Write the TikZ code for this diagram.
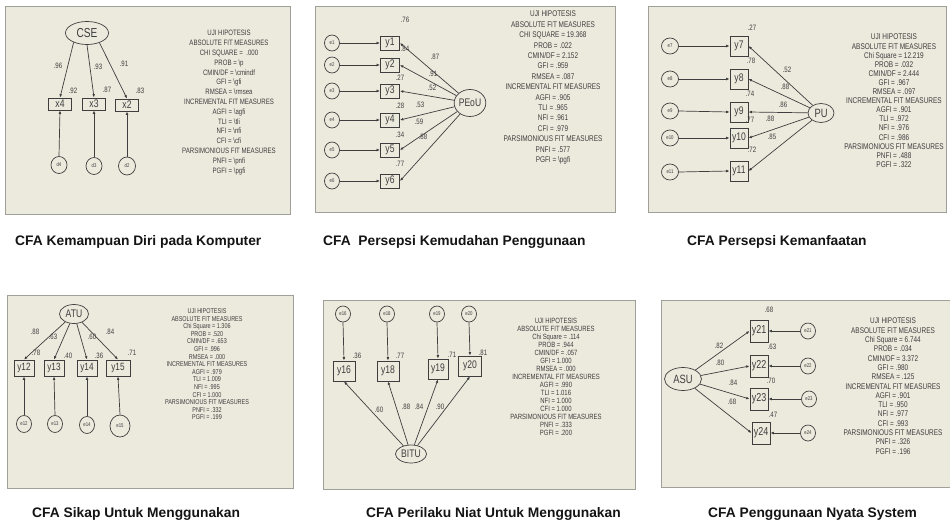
\documentclass[tikz,border=0pt]{standalone}
\usepackage{fontspec}
\setmainfont{Liberation Sans}
\newfontfamily\narrowsf[FakeStretch=0.78]{Liberation Sans}
\usetikzlibrary{shapes.geometric,arrows.meta}

\definecolor{panelbg}{RGB}{236,233,221}
\definecolor{panelrule}{RGB}{160,160,155}
\definecolor{ink}{RGB}{62,62,62}
\definecolor{captionink}{RGB}{20,20,20}

\tikzset{
  panel/.style={fill=panelbg, draw=panelrule, line width=0.8pt},
  latent/.style={ellipse, draw=ink, line width=0.7pt, inner sep=0pt, text=ink},
  observed/.style={rectangle, draw=ink, line width=0.9pt, inner sep=0pt, text=ink},
  errnode/.style={ellipse, draw=ink, line width=0.7pt, inner sep=0pt, text=ink,
    font=\narrowsf\fontsize{5.5}{5.5}\selectfont},
  loadarrow/.style={draw=ink, line width=0.7pt, -{Latex[length=3.4pt,width=2.8pt]}},
  coef/.style={text=ink, inner sep=0pt, font=\narrowsf\fontsize{7.8}{7.8}\selectfont},
  fitline/.style={text=ink, inner sep=0pt, anchor=base},
  caption/.style={text=captionink, anchor=west, inner sep=0pt,
    font=\bfseries\fontsize{13.8}{14}\selectfont},
}

% one centred line per fit statistic: name, x, first-line centre y, spacing, size, lines
\newcommand{\fitlines}[6]{%
  \foreach \ln [count=\k] in {#6}{%
    \node[fitline, font=\narrowsf\fontsize{#5}{#5}\selectfont] (#1-\k)
      at (#2, {#3+(\k-1)*#4+0.36*#5}) {\ln};
  }}

\begin{document}
\begin{tikzpicture}[x=1pt, y=-1pt]
\useasboundingbox (0,0) rectangle (950,527);
\fill[white] (0,0) rectangle (950,527);

% ---------------- CSE ----------------
\path[panel] (5,6) rectangle (290,214);
\node[latent, minimum width=43pt, minimum height=23pt, font=\narrowsf\fontsize{13}{13}\selectfont] (cse) at (87,33) {CSE};
\begin{scope}[every node/.append style={font=\narrowsf\fontsize{11}{11}\selectfont}]
\node[observed, minimum width=23pt, minimum height=12pt] (x4) at (60,104) {x4};
\node[observed, minimum width=23pt, minimum height=12pt] (x3) at (94,104) {x3};
\node[observed, minimum width=23pt, minimum height=12pt] (x2) at (127,105) {x2};
\end{scope}
\node[errnode, minimum width=16pt, minimum height=17pt] (d4) at (59,165) {d4};
\node[errnode, minimum width=16pt, minimum height=17pt] (d3) at (94,166) {d3};
\node[errnode, minimum width=17pt, minimum height=18pt] (d2) at (127,166) {d2};
\draw[loadarrow] (cse.215) -- (x4.north);
\draw[loadarrow] (cse.270) -- (x3.north);
\draw[loadarrow] (cse.322) -- (x2.north);
\draw[loadarrow] (d4.north) -- (x4.south);
\draw[loadarrow] (d3.north) -- (x3.south);
\draw[loadarrow] (d2.north) -- (x2.south);
\node[coef] (l96) at (58,66) {.96};
\node[coef] (l93) at (98,67) {.93};
\node[coef] (l91) at (124,64) {.91};
\node[coef] (r92) at (73,91) {.92};
\node[coef] (r87) at (107,90) {.87};
\node[coef] (r83) at (140,91) {.83};
\fitlines{fitA}{229}{33}{9.8}{7.8}{UJI HIPOTESIS, ABSOLUTE FIT MEASURES, CHI SQUARE = \ .000,
  PROB = \textbackslash p, CMIN/DF = \textbackslash cmindf, GFI = \textbackslash gfi,
  RMSEA = \textbackslash rmsea, INCREMENTAL FIT MEASURES, AGFI = \textbackslash agfi,
  TLI = \textbackslash tli, NFI = \textbackslash nfi, CFI = \textbackslash cfi,
  PARSIMONIOUS FIT MEASURES, PNFI = \textbackslash pnfi, PGFI = \textbackslash pgfi}

% ---------------- PEoU ----------------
\path[panel] (315,6) rectangle (615,212);
\node[latent, minimum width=31pt, minimum height=27pt, font=\narrowsf\fontsize{11}{11}\selectfont] (peou) at (470,103) {PEoU};
\foreach \i/\yy in {1/43, 2/65, 3/91, 4/120, 5/150, 6/181}{
  \node[errnode, minimum width=15pt, minimum height=16pt] (e\i) at (332,\yy) {e\i};
  \node[observed, minimum width=19pt, minimum height=14pt, font=\narrowsf\fontsize{11}{11}\selectfont] (y\i) at (390,\yy) {y\i};
  \draw[loadarrow] (e\i.east) -- (y\i.west);
  \draw[loadarrow] (peou) -- (y\i.east);
}
\node[coef] (r76) at (405,20) {.76};
\node[coef] (r84) at (405,49) {.84};
\node[coef] (r27) at (400,78) {.27};
\node[coef] (r28) at (400,106) {.28};
\node[coef] (r34) at (400,135) {.34};
\node[coef] (r77) at (400,164) {.77};
\node[coef] (l87) at (435,57) {.87};
\node[coef] (l91b) at (433,74) {.91};
\node[coef] (l52) at (432,88) {.52};
\node[coef] (l53) at (420,105) {.53};
\node[coef] (l59) at (419,122) {.59};
\node[coef] (l88) at (423,137) {.88};
\fitlines{fitB}{553}{14}{10.4}{8.25}{UJI HIPOTESIS, ABSOLUTE FIT MEASURES, CHI SQUARE = 19.368,
  PROB = .022, CMIN/DF = 2.152, GFI = .959, RMSEA = .087, INCREMENTAL FIT MEASURES,
  AGFI = .905, TLI = .965, NFI = .961, CFI = .979, PARSIMONIOUS FIT MEASURES,
  PNFI = .577, PGFI = \textbackslash pgfi}

% ---------------- PU ----------------
\path[panel] (648,6) rectangle (946,212);
\node[latent, minimum width=26pt, minimum height=19pt, font=\narrowsf\fontsize{12}{12}\selectfont] (pu) at (821,113) {PU};
\foreach \i/\ey/\by in {7/46/46, 8/79/79, 9/111/112, 10/138/138, 11/172/171}{
  \node[errnode, minimum width=17pt, minimum height=16pt] (e\i) at (670,\ey) {e\i};
  \node[observed, minimum width=18pt, minimum height=20pt, font=\narrowsf\fontsize{11}{11}\selectfont] (y\i) at (739,\by) {y\i};
  \draw[loadarrow] (e\i.east) -- (y\i.west);
  \draw[loadarrow] (pu) -- (y\i.east);
}
\node[coef] (r27c) at (752,28) {.27};
\node[coef] (r78c) at (751,61) {.78};
\node[coef] (r74c) at (750,94) {.74};
\node[coef] (r77c) at (750,120) {.77};
\node[coef] (r72c) at (752,150) {.72};
\node[coef] (l52c) at (787,70) {.52};
\node[coef] (l88c) at (785,87) {.88};
\node[coef] (l86c) at (783,105) {.86};
\node[coef] (l88d) at (770,119) {.88};
\node[coef] (l85c) at (772,137) {.85};
\fitlines{fitC}{894}{37}{9.1}{8.3}{UJI HIPOTESIS, ABSOLUTE FIT MEASURES, Chi Square = 12.219,
  PROB = .032, CMIN/DF = 2.444, GFI = .967, RMSEA = .097, INCREMENTAL FIT MEASURES,
  AGFI = .901, TLI = .972, NFI = .976, CFI = .986, PARSIMONIOUS FIT MEASURES,
  PNFI = .488, PGFI = .322}

% ---------------- ATU ----------------
\path[panel] (7,295) rectangle (293,488);
\node[latent, minimum width=29pt, minimum height=19pt, font=\narrowsf\fontsize{11}{11}\selectfont] (atu) at (74,314) {ATU};
\foreach \i/\bx/\bw/\ex/\ey/\er in {12/24/20/24/424/15, 13/54/20/55/424/15, 14/87/20/87/425/15, 15/118/24/120/426/20}{
  \node[observed, minimum width=\bw pt, minimum height=16pt, font=\narrowsf\fontsize{10.5}{10.5}\selectfont] (y\i) at (\bx,368) {y\i};
  \node[errnode, minimum width=\er pt, minimum height=\er pt+2pt] (e\i) at (\ex,\ey) {e\i};
  \draw[loadarrow] (atu) -- (y\i.north);
  \draw[loadarrow] (e\i.north) -- (y\i.south);
}
\node[coef] (l88e) at (35,332) {.88};
\node[coef] (l63e) at (53,337) {.63};
\node[coef] (l60e) at (92,337) {.60};
\node[coef] (l84e) at (110,332) {.84};
\node[coef] (r78e) at (36,353) {.78};
\node[coef] (r40e) at (68,356) {.40};
\node[coef] (r36e) at (99,356) {.36};
\node[coef] (r71e) at (132,353) {.71};
\fitlines{fitD}{207}{311}{7.6}{7.0}{UJI HIPOTESIS, ABSOLUTE FIT MEASURES, Chi Square = 1.306,
  PROB = .520, CMIN/DF = .653, GFI = .996, RMSEA = .000, INCREMENTAL FIT MEASURES,
  AGFI = .979, TLI = 1.009, NFI = .995, CFI = 1.000, PARSIMONIOUS FIT MEASURES,
  PNFI = .332, PGFI = .199}

% ---------------- BITU ----------------
\path[panel] (323,300) rectangle (635,489);
\node[latent, minimum width=31pt, minimum height=18pt, font=\narrowsf\fontsize{11}{11}\selectfont] (bitu) at (411,454) {BITU};
\foreach \i/\ex/\bx/\by/\bw in {16/343/344/371/22, 18/387/388/371/22, 19/437/438/369/20, 20/469/470/366/23}{
  \node[errnode, minimum width=15pt, minimum height=16pt] (e\i) at (\ex,314) {e\i};
  \node[observed, minimum width=\bw pt, minimum height=20pt, font=\narrowsf\fontsize{11}{11}\selectfont] (y\i) at (\bx,\by) {y\i};
  \draw[loadarrow] (e\i.south) -- (y\i.north);
  \draw[loadarrow] (bitu) -- (y\i.south);
}
\node[coef] (r36f) at (357,356) {.36};
\node[coef] (r77f) at (400,356) {.77};
\node[coef] (r71f) at (452,355) {.71};
\node[coef] (r81f) at (483,353) {.81};
\node[coef] (l60f) at (379,410) {.60};
\node[coef] (l88f) at (406,407) {.88};
\node[coef] (l84f) at (419,407) {.84};
\node[coef] (l90f) at (440,407) {.90};
\fitlines{fitE}{556}{321}{8}{7.6}{UJI HIPOTESIS, ABSOLUTE FIT MEASURES, Chi Square = .114,
  PROB = .944, CMIN/DF = .057, GFI = 1.000, RMSEA = .000, INCREMENTAL FIT MEASURES,
  AGFI = .990, TLI = 1.016, NFI = 1.000, CFI = 1.000, PARSIMONIOUS FIT MEASURES,
  PNFI = .333, PGFI = .200}

% ---------------- ASU ----------------
\path[panel] (661,300) rectangle (950,487);
\node[latent, minimum width=37pt, minimum height=23pt, font=\narrowsf\fontsize{12}{12}\selectfont] (asu) at (683,379) {ASU};
\foreach \i/\bx/\by/\ex in {21/759/331/808, 22/759/366/808, 23/759/399/809, 24/761/433/808}{
  \node[observed, minimum width=18pt, minimum height=22pt, font=\narrowsf\fontsize{11.5}{11.5}\selectfont] (y\i) at (\bx,\by) {y\i};
  \node[errnode, minimum width=15pt, minimum height=16pt] (e\i) at (\ex,\by) {e\i};
  \draw[loadarrow] (e\i.west) -- (y\i.east);
  \draw[loadarrow] (asu) -- (y\i.west);
}
\node[coef] (r68g) at (769,310) {.68};
\node[coef] (r63g) at (772,347) {.63};
\node[coef] (r70g) at (771,381) {.70};
\node[coef] (r47g) at (773,415) {.47};
\node[coef] (l82g) at (719,346) {.82};
\node[coef] (l80g) at (720,363) {.80};
\node[coef] (l84g) at (733,383) {.84};
\node[coef] (l68g) at (732,402) {.68};
\fitlines{fitF}{893}{321}{9.3}{8.25}{UJI HIPOTESIS, ABSOLUTE FIT MEASURES, Chi Square = 6.744,
  PROB = .034, CMIN/DF = 3.372, GFI = .980, RMSEA = .125, INCREMENTAL FIT MEASURES,
  AGFI = .901, TLI = .950, NFI = .977, CFI = .993, PARSIMONIOUS FIT MEASURES,
  PNFI = .326, PGFI = .196}

% ---------------- captions ----------------
\node[caption] (capA) at (15,242) {CFA Kemampuan Diri pada Komputer};
\node[caption] (capB) at (323,242) {CFA\ \ Persepsi Kemudahan Penggunaan};
\node[caption] (capC) at (687,242) {CFA Persepsi Kemanfaatan};
\node[caption] (capD) at (32,514) {CFA Sikap Untuk Menggunakan};
\node[caption] (capE) at (366,514) {CFA Perilaku Niat Untuk Menggunakan};
\node[caption] (capF) at (708,514) {CFA Penggunaan Nyata System};
\end{tikzpicture}
\end{document}
